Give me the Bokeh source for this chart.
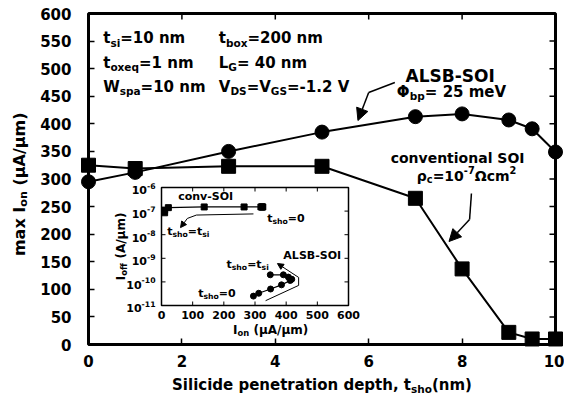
import math
from bokeh.plotting import figure
from bokeh.models import Range1d, LogScale, FixedTicker, Arrow, NormalHead
from bokeh.core.properties import value
from bokeh.embed import file_html
from bokeh.resources import INLINE

# ---------------- data ----------------
t_sho = [0, 1, 3, 5, 7, 8, 9, 9.5, 10]
ion_alsb = [295, 312, 350, 385, 413, 418, 407, 391, 349]
ion_conv = [325, 319, 323, 323, 265, 137, 22, 10, 10]
ioff_alsb = [2.5e-11, 3.3e-11, 5e-11, 7.5e-11, 1.15e-10, 1.3e-10, 1.6e-10, 2e-10, 2e-10]
ioff_conv = [1.5e-7, 1.5e-7, 1.5e-7, 1.5e-7, 1.5e-7, 1.5e-7, 1.4e-7, 1.1e-7, 8.5e-8]
x_ticks = [0, 2, 4, 6, 8, 10]
y_ticks = list(range(0, 601, 50))
inset_x_ticks = [0, 100, 200, 300, 400, 500, 600]
inset_y_exps = [-6, -7, -8, -9, -10, -11]

FONT = "DejaVu Sans"
W = {' ': .348, '(': .457, ')': .457, ',': .380, '-': .415, '.': .380, '/': .365, '=': .838,
     'A': .774, 'B': .762, 'C': .734, 'D': .830, 'G': .821, 'I': .372, 'L': .637, 'O': .850,
     'S': .720, 'V': .774, 'W': 1.103, 'a': .675, 'b': .716, 'c': .593, 'd': .716, 'e': .678,
     'f': .435, 'h': .712, 'i': .343, 'l': .343, 'm': 1.042, 'n': .712, 'o': .687, 'p': .716,
     'q': .716, 'r': .493, 's': .595, 't': .478, 'u': .712, 'v': .652, 'x': .645, 'y': .652,
     'μ': .720, 'Φ': .872, 'ρ': .716, 'Ω': .844}
for d in "0123456789":
    W[d] = .696


def tw(s, fs):
    return sum(W.get(ch, .65) for ch in s) * fs


# ---------------- layout constants (pixels) ----------------
FL, FR, FT, FB = 88, 555, 13, 344          # main frame
IL, IR, IT, IB = 161, 348, 187, 305        # inset frame
TICK = 6
BASE_FIX = 0.33                            # baseline correction (fraction of font size)

p = figure(width=564, height=397, x_range=Range1d(0, 10), y_range=Range1d(0, 600),
           output_backend="svg", toolbar_location=None,
           min_border_left=FL, min_border_right=564 - FR, min_border_top=FT, min_border_bottom=397 - FB,
           background_fill_color="white", border_fill_color="white")
p.xgrid.visible = False
p.ygrid.visible = False
p.outline_line_color = "black"
p.outline_line_width = 3

for ax in (p.xaxis[0], p.yaxis[0]):
    ax.axis_line_color = None
    ax.major_tick_in = TICK
    ax.major_tick_out = 0
    ax.major_tick_line_width = 1.5
    ax.minor_tick_line_color = None
    ax.major_label_text_font = FONT
    ax.major_label_text_font_style = "bold"
    ax.major_label_text_font_size = "15px"
    ax.major_label_text_color = "black"
p.xaxis[0].ticker = FixedTicker(ticks=x_ticks)
p.yaxis[0].ticker = FixedTicker(ticks=y_ticks)
p.xaxis[0].major_label_standoff = 10
p.yaxis[0].major_label_standoff = 17

# inward ticks on the top and right edges of the frame
sx_main = (FR - FL) / 10.0
sy_main = (FB - FT) / 600.0
p.segment(x0=x_ticks, x1=x_ticks, y0=[600] * len(x_ticks), y1=[600 - TICK / sy_main] * len(x_ticks),
          line_color="black", line_width=1.5)
p.segment(x0=[10] * len(y_ticks), x1=[10 - TICK / sx_main] * len(y_ticks), y0=y_ticks, y1=y_ticks,
          line_color="black", line_width=1.5)

# inset ranges mapped onto the main frame
k = (IR - IL) / 600.0
dpp = 5.0 / (IB - IT)
p.extra_x_ranges = {"ix": Range1d(0 - (IL - FL) / k, 600 + (FR - IR) / k)}
p.extra_y_ranges = {"iy": Range1d(10 ** (-11 - (FB - IB) * dpp), 10 ** (-6 + (IT - FT) * dpp))}
p.extra_y_scales = {"iy": LogScale()}
IR_ = dict(x_range_name="ix", y_range_name="iy")


def put(x, y, t, fs, dx=0.0, dup=0.0, angle=0.0, align="left", baseline="alphabetic", rng=None):
    rng = rng or {}
    p.text(x=[x], y=[y], text=[t], x_offset=dx, y_offset=-dup, angle=angle,
           text_font=value(FONT), text_font_style="bold", text_font_size=f"{fs:.1f}px",
           text_align=align, text_baseline=baseline, text_color="black", level="overlay", **rng)


def rich(x, y, parts, size, align="left", angle=0.0, dy0=0.0, dx0=0.0, rng=None, sub=0.7):
    sizes = [size if kd == "n" else size * sub for _, kd in parts]
    widths = [tw(t, fs) for (t, _), fs in zip(parts, sizes)]
    total = sum(widths)
    off = dx0 + {"left": 0.0, "center": -total / 2, "right": -total}[align]
    ca, sa = math.cos(angle), math.sin(angle)
    for (t, kd), fs, w in zip(parts, sizes, widths):
        lead = len(t) - len(t.lstrip(" "))
        o = off + lead * W[' '] * fs
        d = dy0 + BASE_FIX * size + {"n": 0.0, "sub": -0.28 * size, "sup": 0.42 * size}[kd]
        put(x, y, t.strip(" "), fs, dx=o * ca - d * sa, dup=o * sa + d * ca, angle=angle, rng=rng)
        off += w


# ---------------- main series ----------------
p.line(t_sho, ion_alsb, line_color="black", line_width=2)
p.line(t_sho, ion_conv, line_color="black", line_width=2)
p.scatter(t_sho, ion_alsb, marker="circle", size=14, fill_color="black", line_color="black", level="overlay")
p.scatter(t_sho, ion_conv, marker="square", size=14, fill_color="black", line_color="black", level="overlay")

# ---------------- inset ----------------
ylo, yhi = 10.0 ** inset_y_exps[-1], 10.0 ** inset_y_exps[0]
p.quad(left=[inset_x_ticks[0]], right=[inset_x_ticks[-1]], bottom=[ylo], top=[yhi],
       fill_color="white", line_color="black", line_width=1.5, level="underlay", **IR_)
tl = 4
nx = len(inset_x_ticks)
p.segment(x0=inset_x_ticks, x1=inset_x_ticks, y0=[ylo] * nx, y1=[ylo * 10 ** (tl * dpp)] * nx,
          line_color="black", line_width=1, **IR_)
p.segment(x0=inset_x_ticks, x1=inset_x_ticks, y0=[yhi] * nx, y1=[yhi / 10 ** (tl * dpp)] * nx,
          line_color="black", line_width=1, **IR_)
yv = [10.0 ** e for e in inset_y_exps]
ny = len(yv)
p.segment(x0=[0] * ny, x1=[tl / k] * ny, y0=yv, y1=yv, line_color="black", line_width=1, **IR_)
p.segment(x0=[600] * ny, x1=[600 - tl / k] * ny, y0=yv, y1=yv, line_color="black", line_width=1, **IR_)

for v in inset_x_ticks:
    put(v, ylo, str(v), 11, dup=-5, align="center", baseline="top", rng=IR_)
for e in inset_y_exps:
    rich(0, 10.0 ** e, [("10", "n"), (str(e), "sup")], 11, align="right", dy0=-6.5, dx0=-6, rng=IR_)

p.line(ion_conv, ioff_conv, line_color="black", line_width=1.3, **IR_)
p.line(ion_alsb, ioff_alsb, line_color="black", line_width=1.3, **IR_)
p.scatter(ion_conv, ioff_conv, marker="square", size=6, fill_color="black", line_color="black", **IR_)
p.scatter(ion_alsb, ioff_alsb, marker="circle", size=6, fill_color="black", line_color="black", **IR_)

rich(53.6, 2.8e-7, [("conv-SOI", "n")], 11, rng=IR_)
rich(18.3, 1.0e-8, [("t", "n"), ("sho", "sub"), ("=t", "n"), ("si", "sub")], 11, rng=IR_)
rich(339, 3.3e-8, [("t", "n"), ("sho", "sub"), ("=0", "n")], 11, rng=IR_)
rich(208.6, 3.7e-10, [("t", "n"), ("sho", "sub"), ("=t", "n"), ("si", "sub")], 11, rng=IR_)
rich(391, 8.9e-10, [("ALSB-SOI", "n")], 11, rng=IR_)
rich(117.8, 2.2e-11, [("t", "n"), ("sho", "sub"), ("=0", "n")], 11, rng=IR_)
rich(-118.7, 3.16e-9, [("I", "n"), ("off", "sub"), (" (A/μm)", "n")], 12, align="center",
     angle=math.pi / 2, rng=IR_)
rich(349.7, 6.4e-13, [("I", "n"), ("on", "sub"), (" (μA/μm)", "n")], 12, align="center", rng=IR_)

# inset arrows
p.line([295, 112, 83], [7.6e-8, 6.8e-8, 4.9e-8], line_color="black", line_width=1, **IR_)
p.add_layout(Arrow(end=NormalHead(size=6, fill_color="black", line_color="black"),
                   x_start=83, y_start=4.9e-8, x_end=61, y_end=2.0e-8, line_width=1, **IR_))
p.line([334, 440, 440], [1.6e-11, 7.1e-11, 1.55e-10], line_color="black", line_width=1, **IR_)
p.add_layout(Arrow(end=NormalHead(size=6, fill_color="black", line_color="black"),
                   x_start=440, y_start=1.55e-10, x_end=372, y_end=6.0e-10, line_width=1, **IR_))

# ---------------- main annotations ----------------
rich(0.315, 545.8, [("t", "n"), ("si", "sub"), ("=10 nm", "n")], 15)
rich(0.315, 500.8, [("t", "n"), ("oxeq", "sub"), ("=1 nm", "n")], 15)
rich(0.315, 458.6, [("W", "n"), ("spa", "sub"), ("=10 nm", "n")], 15)
rich(2.79, 545.8, [("t", "n"), ("box", "sub"), ("=200 nm", "n")], 15)
rich(2.79, 500.8, [("L", "n"), ("G", "sub"), ("= 40 nm", "n")], 15)
rich(2.79, 458.6, [("V", "n"), ("DS", "sub"), ("=V", "n"), ("GS", "sub"), ("=-1.2 V", "n")], 15)
rich(6.79, 477, [("ALSB-SOI", "n")], 17)
rich(6.6, 449.6, [("Φ", "n"), ("bp", "sub"), ("= 25 meV", "n")], 15)
rich(6.47, 330.5, [("conventional SOI", "n")], 14)
rich(7.03, 297.2, [("ρ", "n"), ("c", "sub"), ("=10", "n"), ("-7", "sup"), ("Ωcm", "n"), ("2", "sup")], 14)

p.line([6.56, 6.0], [475, 456.8], line_color="black", line_width=1.5)
p.add_layout(Arrow(end=NormalHead(size=12, fill_color="black", line_color="black"),
                   x_start=6.0, y_start=456.8, x_end=5.77, y_end=406, line_width=1.5))
p.line([8.2, 8.16], [273.7, 226.6], line_color="black", line_width=1.5)
p.add_layout(Arrow(end=NormalHead(size=12, fill_color="black", line_color="black"),
                   x_start=8.16, y_start=226.6, x_end=7.72, y_end=186.7, line_width=1.5))

# axis titles
rich(5.0, -81.5, [("Silicide penetration depth, t", "n"), ("sho", "sub"), ("(nm)", "n")], 15, align="center")
rich(-1.37, 290, [("max I", "n"), ("on", "sub"), (" (μA/μm)", "n")], 16, align="center", angle=math.pi / 2)

open("out.html", "w").write(file_html(p, INLINE))
